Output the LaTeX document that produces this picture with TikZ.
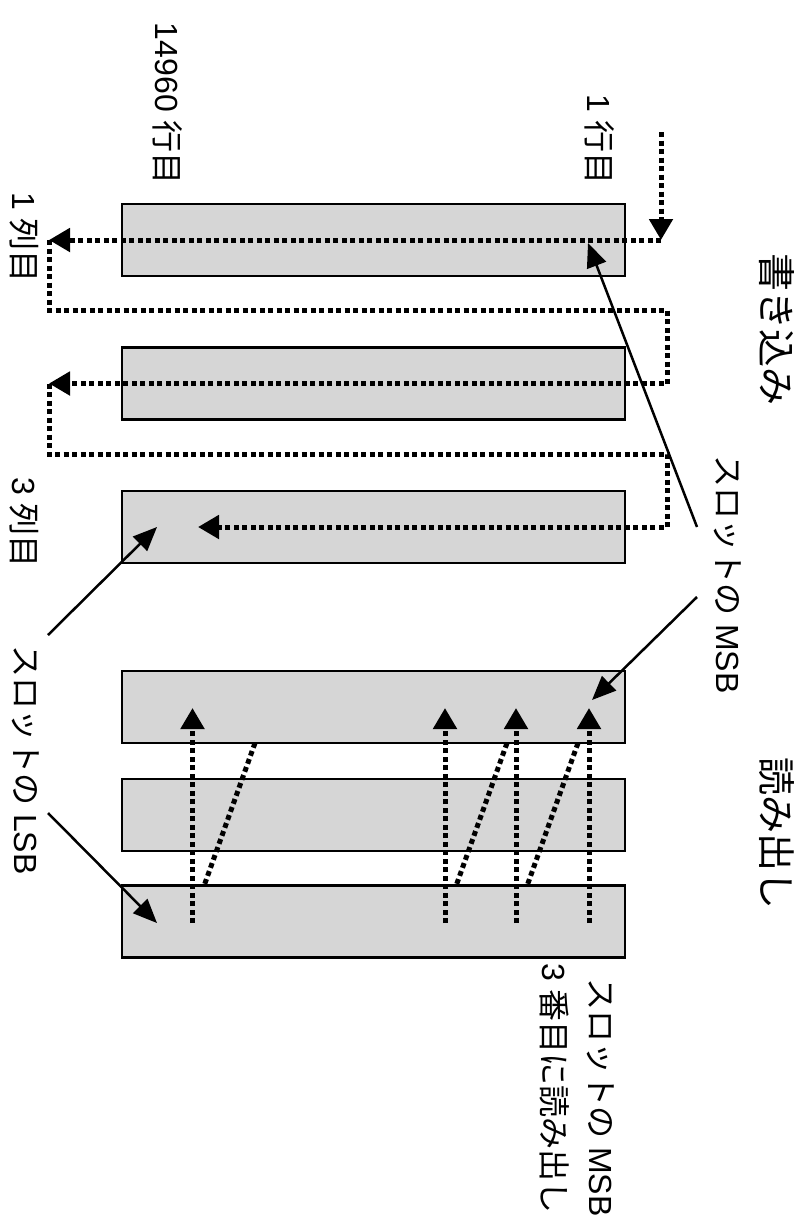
\documentclass[tikz,border=0pt]{standalone}
\usepackage{fontspec}
\setmainfont{Liberation Sans}
\newfontfamily\jp{Noto Sans CJK JP}
\usetikzlibrary{arrows.meta}
\definecolor{slotgray}{RGB}{214,214,214}
\tikzset{
    slot/.style={draw, line width=2.5pt, fill=slotgray, minimum width=503pt,
        minimum height=72pt, inner sep=0pt},
    dots/.style={line width=5pt, dash pattern=on 5pt off 3.5pt},
    dotarrow/.style={dots, -{Triangle[length=21pt,width=23pt]}},
    solidarrow/.style={line width=2.5pt, -{Triangle[length=24pt,width=20pt]}},
    lbl/.style={rotate=-90, inner sep=0pt, font=\fontsize{32}{36}\selectfont},
    ttl/.style={rotate=-90, inner sep=0pt, font=\fontsize{38}{44}\selectfont\jp}
}
\begin{document}
\begin{tikzpicture}[x=1pt,y=-1pt]
    \useasboundingbox (0,0) rectangle (804,1224);

    % slots
    \node[slot] (w1) at (373.5,240) {};
    \node[slot] (w2) at (373.5,383.5) {};
    \node[slot] (w3) at (373.5,527) {};
    \node[slot] (r1) at (373.5,707) {};
    \node[slot] (r2) at (373.5,815) {};
    \node[slot] (r3) at (373.5,921.5) {};

    % write order
    \coordinate (in) at (661,132);
    \coordinate (w1r) at (661,240);
    \coordinate (w1l) at (49,240);
    \coordinate (w2r) at (667,383.5);
    \coordinate (w2l) at (49,383.5);
    \coordinate (w3r) at (667,527);
    \coordinate (w3l) at (198,527);
    \draw[dotarrow] (in) -- (w1r);
    \draw[dotarrow] (w1r) -- (w1l);
    \draw[dotarrow] (w1l) -- ++(0,70) -| (w2r) -- (w2l);
    \draw[dotarrow] (w2l) -- ++(0,70.5) -| (w3r) -- (w3l);

    % read order
    \foreach \c/\x in {a/192.5,b/445,c/516,d/589} {
        \coordinate (lo\c) at (\x,923);
        \coordinate (hi\c) at (\x,708);
        \draw[dotarrow] (lo\c) -- (hi\c);
    }
    \foreach \c/\x in {a/255,b/507,c/578} {
        \coordinate (up\c) at (\x,743);
        \coordinate (dn\c) at (\x-51,886);
        \draw[dots] (up\c) -- (dn\c);
    }

    % labels
    \node[lbl, anchor=east] (rowlast) at (168,185) {14960 {\jp 行目}};
    \node[lbl, anchor=east] (rowfirst) at (600,185) {1 {\jp 行目}};
    \node[lbl, anchor=west] (col1) at (24,192) {1 {\jp 列目}};
    \node[lbl, anchor=west] (col3) at (24,477) {3 {\jp 列目}};
    \node[ttl, anchor=west] (write) at (777,253) {書き込み};
    \node[ttl, anchor=west] (read) at (777,757) {読み出し};
    \node[lbl, anchor=west] (msb) at (728,455) {{\jp スロットの} MSB};
    \node[lbl, anchor=west] (lsb) at (26,645) {{\jp スロットの} LSB};
    \node[lbl, anchor=west] (msbread) at (601,978) {{\jp スロットの} MSB};
    \node[lbl, anchor=west] (third) at (555,963) {3 {\jp 番目に読み出し}};

    % pointers
    \coordinate (msbA) at (697,527);
    \coordinate (msbB) at (697,597);
    \coordinate (lsbA) at (48,635);
    \coordinate (lsbB) at (48,813);
    \draw[solidarrow] (msbA) -- (588,243);
    \draw[solidarrow] (msbB) -- (592,700);
    \draw[solidarrow] (lsbA) -- (157,527);
    \draw[solidarrow] (lsbB) -- (157,923);

\end{tikzpicture}
\end{document}
